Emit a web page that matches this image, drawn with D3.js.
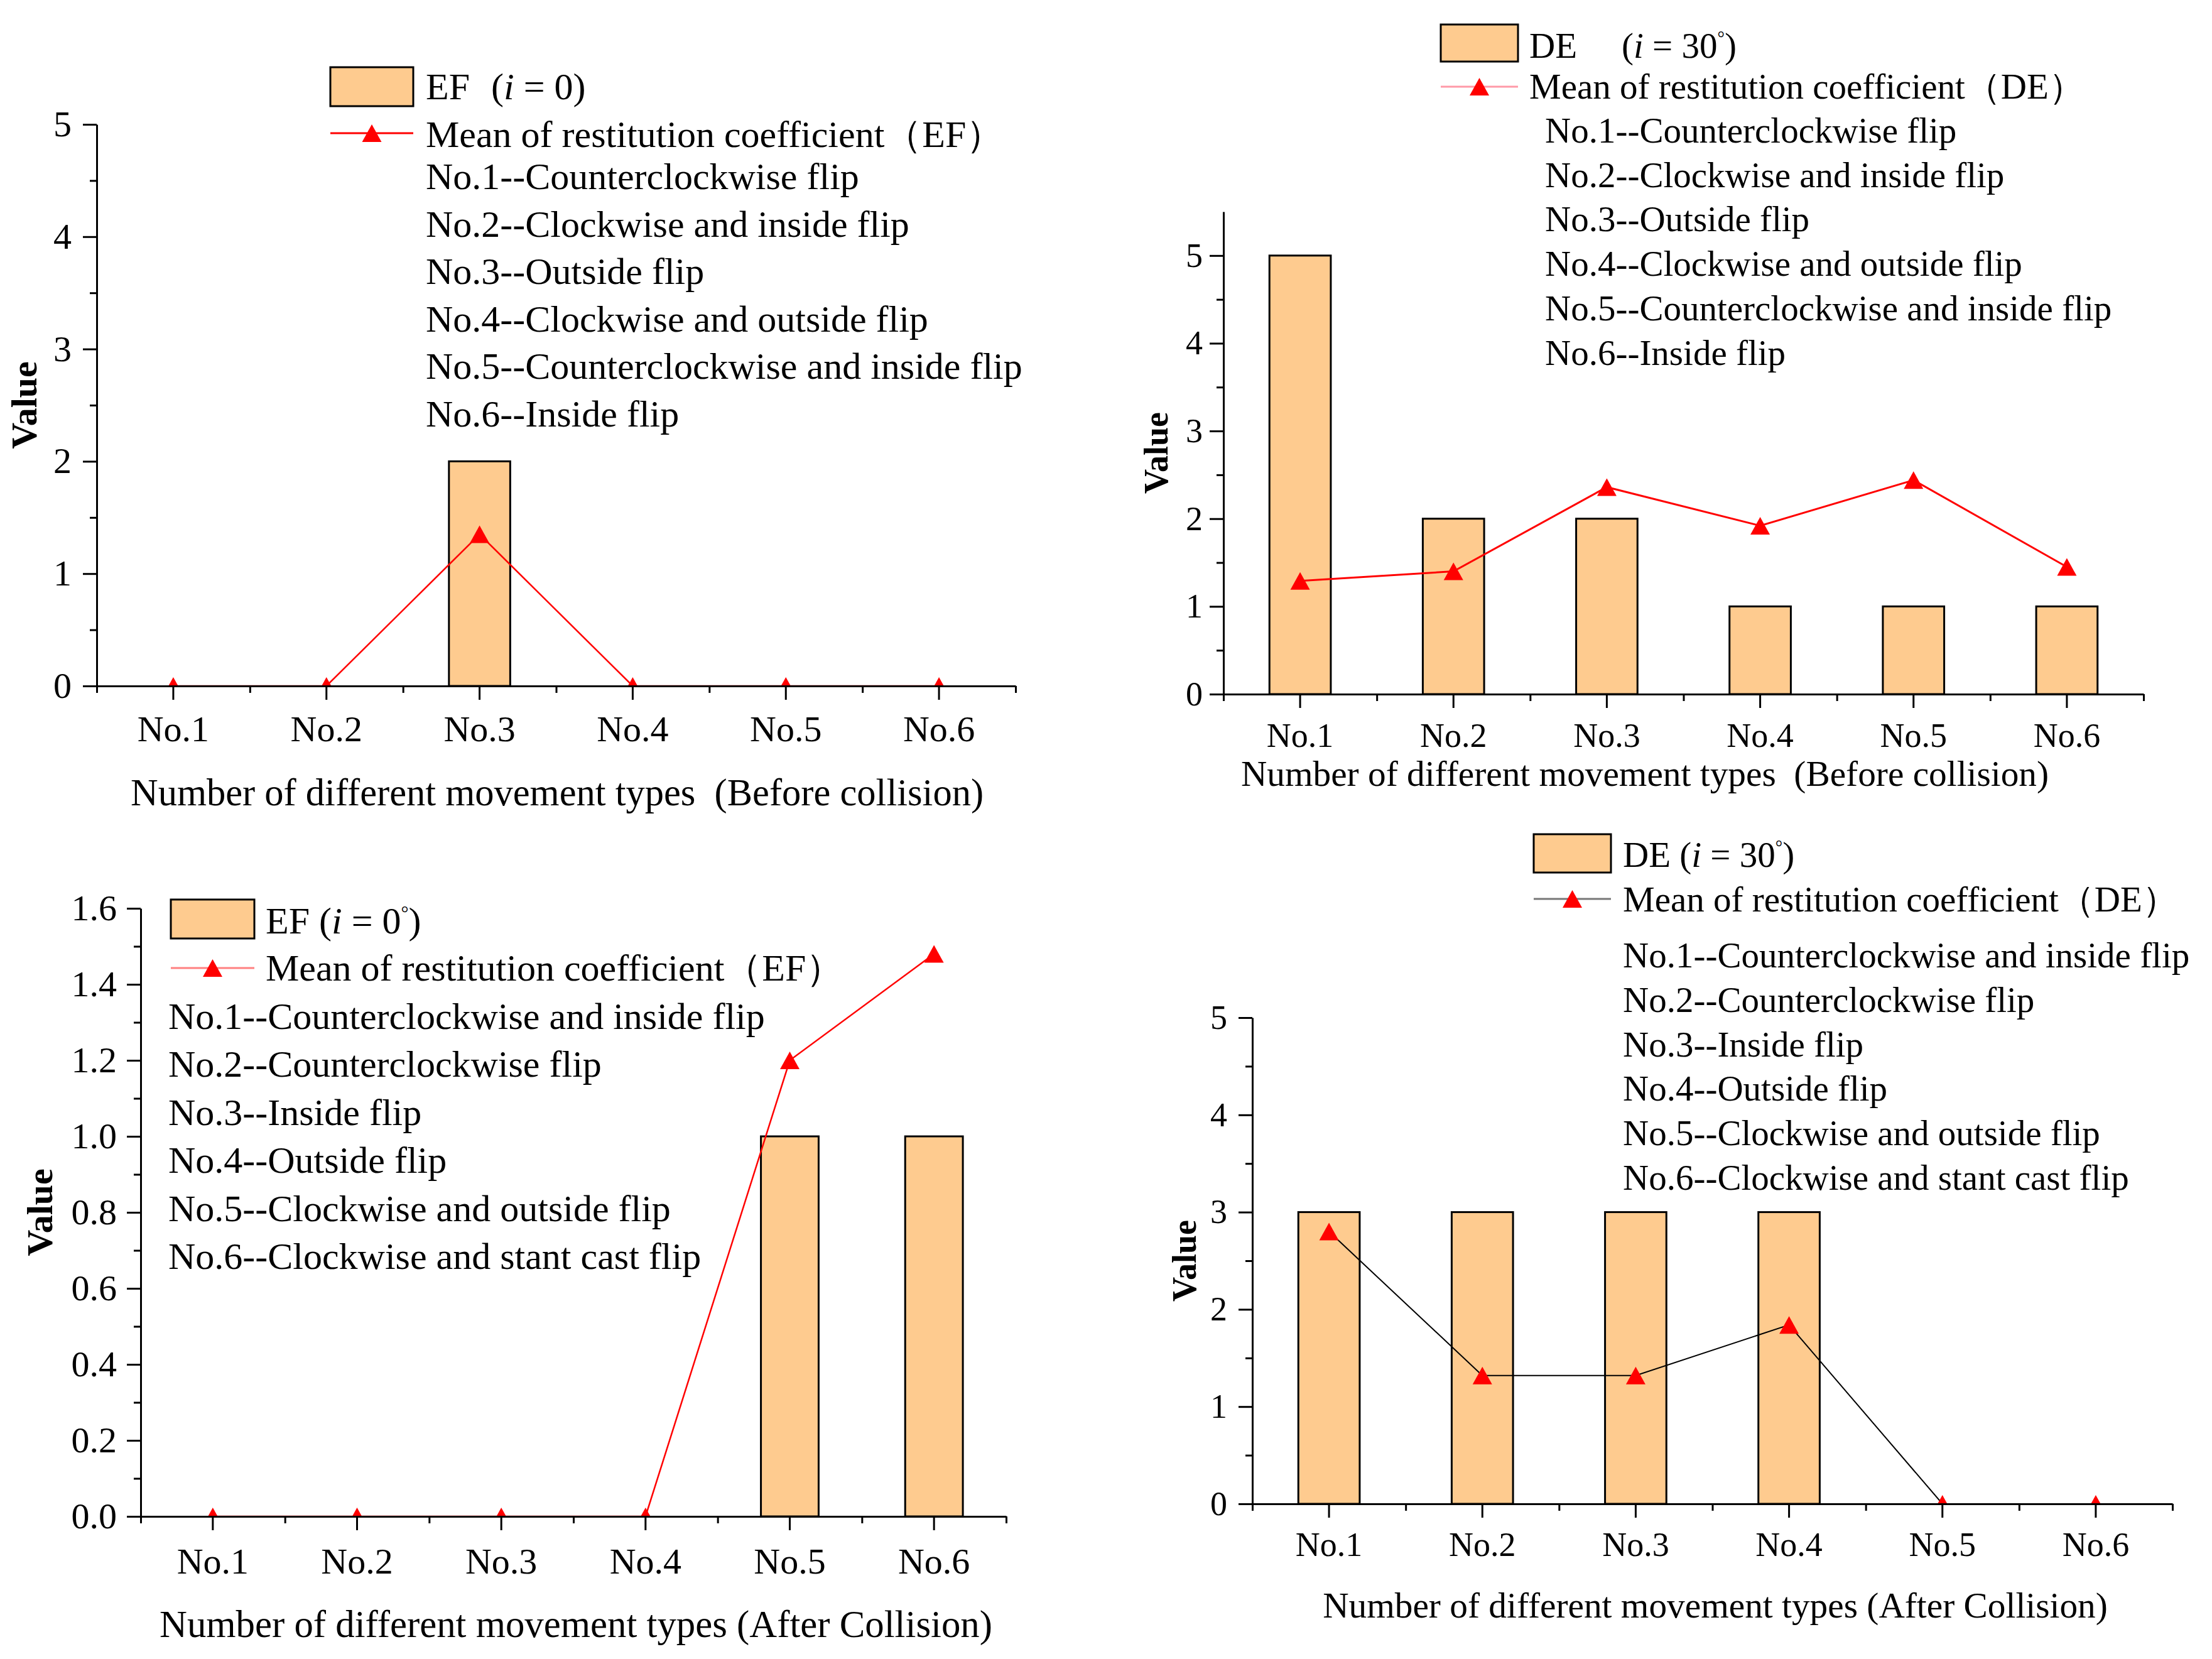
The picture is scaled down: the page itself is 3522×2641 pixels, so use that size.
<!DOCTYPE html>
<html>
<head>
<meta charset="utf-8">
<script src="https://cdn.jsdelivr.net/npm/d3@7"></script>
<style>
  body { margin: 0; background: #fff; }
  text { font-family: "Liberation Serif", "Times New Roman", serif; fill: #000; }
</style>
</head>
<body>
<div id="chart"></div>
<script>
var svgWidth = 3522;
var svgHeight = 2641;

// data
var categories = ["No.1", "No.2", "No.3", "No.4", "No.5", "No.6"];

var countBeforeEF = [0, 0, 2, 0, 0, 0];
var meanBeforeEF = [0, 0, 1.35, 0, 0, 0];
var countBeforeDE = [5, 2, 2, 1, 1, 1];
var meanBeforeDE = [1.29, 1.40, 2.36, 1.92, 2.44, 1.45];
var countAfterEF = [0, 0, 0, 0, 1, 1];
var meanAfterEF = [0, 0, 0, 0, 1.20, 1.48];
var countAfterDE = [3, 3, 3, 3, 0, 0];
var meanAfterDE = [2.80, 1.32, 1.32, 1.84, 0, 0];

var ticksCount = [0, 1, 2, 3, 4, 5];
var minorCount = [0.5, 1.5, 2.5, 3.5, 4.5];
var ticksFrac = [0, 0.2, 0.4, 0.6, 0.8, 1.0, 1.2, 1.4, 1.6];
var minorFrac = [0.1, 0.3, 0.5, 0.7, 0.9, 1.1, 1.3, 1.5];

var typesBefore = [
  "No.1--Counterclockwise flip",
  "No.2--Clockwise and inside flip",
  "No.3--Outside flip",
  "No.4--Clockwise and outside flip",
  "No.5--Counterclockwise and inside flip",
  "No.6--Inside flip"
];
var typesAfter = [
  "No.1--Counterclockwise and inside flip",
  "No.2--Counterclockwise flip",
  "No.3--Inside flip",
  "No.4--Outside flip",
  "No.5--Clockwise and outside flip",
  "No.6--Clockwise and stant cast flip"
];

var titleBefore = "Number of different movement types\u00A0\u00A0(Before collision)";
var titleAfter = "Number of different movement types (After Collision)";

var barFill = "#fecb8f";

var panels = [
  { counts: countBeforeEF, means: meanBeforeEF, types: typesBefore, title: titleBefore,
    name: "EF", angle: "0", degree: false, parenX: 782,
    left: 154, right: 1617, top: 198, bottom: 1092, max: 5,
    ticks: ticksCount, minor: minorCount, fmt: d3.format("d"),
    lineColor: "#ff0000", lineWidth: 2.5, legendLine: "#ff0000",
    axisFont: 58, titleFont: 60.5, legendFont: 60, yGap: 40, xLabelOff: 68,
    titleX: 887, titleBase: 1282, valueX: 38,
    swX: 526, swY: 107, swW: 132, swH: 62, lineY: 212, textX: 678,
    firstBase: 158, meanBase: 234, descX: 678, descBase: 301, descStep: 75.6 },
  { counts: countBeforeDE, means: meanBeforeDE, types: typesBefore, title: titleBefore,
    name: "DE", angle: "30", degree: true, parenX: 2582,
    left: 1948, right: 3413, top: 337, bottom: 1105, max: 5.5,
    ticks: ticksCount, minor: minorCount, fmt: d3.format("d"),
    lineColor: "#ff0000", lineWidth: 3, legendLine: "#ff9aa8",
    axisFont: 54, titleFont: 57.3, legendFont: 57, yGap: 33, xLabelOff: 65,
    titleX: 2619, titleBase: 1251, valueX: 1841,
    swX: 2294, swY: 39, swW: 123, swH: 59, lineY: 138, textX: 2435,
    firstBase: 92, meanBase: 157, descX: 2460, descBase: 227, descStep: 70.7 },
  { counts: countAfterEF, means: meanAfterEF, types: typesAfter, title: titleAfter,
    name: "EF", angle: "0", degree: true, parenX: null,
    left: 224, right: 1602, top: 1446, bottom: 2414, max: 1.6,
    ticks: ticksFrac, minor: minorFrac, fmt: d3.format(".1f"),
    lineColor: "#ff0000", lineWidth: 2.5, legendLine: "#ff8080",
    axisFont: 58, titleFont: 60.8, legendFont: 60, yGap: 38, xLabelOff: 71,
    titleX: 917, titleBase: 2606, valueX: 63,
    swX: 272, swY: 1432, swW: 133, swH: 62, lineY: 1541, textX: 423,
    firstBase: 1486, meanBase: 1561, descX: 268, descBase: 1638, descStep: 76.4 },
  { counts: countAfterDE, means: meanAfterDE, types: typesAfter, title: titleAfter,
    name: "DE", angle: "30", degree: true, parenX: null,
    left: 1994, right: 3459, top: 1620, bottom: 2394, max: 5,
    ticks: ticksCount, minor: minorCount, fmt: d3.format("d"),
    lineColor: "#000000", lineWidth: 2, legendLine: "#777777",
    axisFont: 54, titleFont: 57.3, legendFont: 57, yGap: 40, xLabelOff: 64,
    titleX: 2731, titleBase: 2575, valueX: 1886,
    swX: 2442, swY: 1328, swW: 123, swH: 61, lineY: 1431, textX: 2584,
    firstBase: 1380, meanBase: 1451, descX: 2584, descBase: 1540, descStep: 70.8 }
];

var svg = d3.select("#chart").append("svg")
            .attr("width", svgWidth)
            .attr("height", svgHeight);

svg.append("rect").attr("width", svgWidth).attr("height", svgHeight).attr("fill", "#fff");

var triW = 31, triH = 28;
function triangle(cx, cy) {
  return "M" + cx + "," + (cy - triH / 2) +
         "L" + (cx + triW / 2) + "," + (cy + triH / 2) +
         "L" + (cx - triW / 2) + "," + (cy + triH / 2) + "Z";
}

panels.forEach(function(p, idx) {
  var g = svg.append("g");

  var xScale = d3.scaleBand()
                 .domain(categories)
                 .range([p.left, p.right])
                 .paddingInner(0.6)
                 .paddingOuter(0.3);
  var edgeScale = d3.scaleLinear().domain([0, categories.length]).range([p.left, p.right]);
  var yScale = d3.scaleLinear().domain([0, p.max]).range([p.bottom, p.top]);
  var cx = function(c) { return xScale(c) + xScale.bandwidth() / 2; };

  var rows = categories.map(function(c, i) { return { cat: c, count: p.counts[i], mean: p.means[i] }; });

  // bars
  g.selectAll("rect.bar").data(rows.filter(function(d) { return d.count > 0; }))
   .enter().append("rect")
   .attr("class", "bar")
   .attr("x", function(d) { return xScale(d.cat); })
   .attr("y", function(d) { return yScale(d.count); })
   .attr("width", xScale.bandwidth())
   .attr("height", function(d) { return p.bottom - yScale(d.count); })
   .attr("fill", barFill)
   .attr("stroke", "#000")
   .attr("stroke-width", 3);

  // clip for line + markers
  var clipId = "clip" + idx;
  svg.append("clipPath").attr("id", clipId)
     .append("rect")
     .attr("x", p.left).attr("y", p.top - 30)
     .attr("width", p.right - p.left).attr("height", p.bottom - p.top + 30);

  var lineG = g.append("g").attr("clip-path", "url(#" + clipId + ")");
  var line = d3.line().x(function(d) { return cx(d.cat); }).y(function(d) { return yScale(d.mean); });
  lineG.append("path").datum(rows)
       .attr("d", line)
       .attr("fill", "none")
       .attr("stroke", p.lineColor)
       .attr("stroke-width", p.lineWidth);
  lineG.selectAll("path.mark").data(rows).enter().append("path")
       .attr("class", "mark")
       .attr("d", function(d) { return triangle(cx(d.cat), yScale(d.mean)); })
       .attr("fill", "#ff0000");

  // y axis
  g.append("g")
   .attr("transform", "translate(" + p.left + ",0)")
   .style("font-size", p.axisFont + "px")
   .call(d3.axisLeft(yScale).tickValues(p.ticks).tickFormat(p.fmt)
           .tickSize(22).tickSizeOuter(0).tickPadding(p.yGap - 22));
  g.append("g")
   .attr("transform", "translate(" + p.left + ",0)")
   .call(d3.axisLeft(yScale).tickValues(p.minor).tickFormat("").tickSize(11).tickSizeOuter(0))
   .select(".domain").remove();

  // x axis
  var xAxis = g.append("g")
               .attr("transform", "translate(0," + p.bottom + ")")
               .style("font-size", p.axisFont + "px")
               .call(d3.axisBottom(xScale).tickSize(22).tickSizeOuter(0).tickPadding(0));
  xAxis.selectAll("text").attr("y", p.xLabelOff).attr("dy", "0.35em");
  g.append("g")
   .attr("transform", "translate(0," + p.bottom + ")")
   .call(d3.axisBottom(edgeScale).tickValues(d3.range(categories.length + 1)).tickFormat("").tickSize(11).tickSizeOuter(0))
   .select(".domain").remove();

  g.selectAll(".domain").attr("stroke-width", 3).attr("stroke", "#000");
  g.selectAll(".tick line").attr("stroke-width", 3).attr("stroke", "#000");
  g.selectAll(".tick text").attr("fill", "#000");

  // axis titles
  g.append("text")
   .attr("x", p.titleX).attr("y", p.titleBase)
   .attr("text-anchor", "middle")
   .style("font-size", p.titleFont + "px")
   .text(p.title);

  g.append("text")
   .attr("transform", "translate(" + p.valueX + "," + ((p.top + p.bottom) / 2) + ") rotate(-90)")
   .attr("text-anchor", "middle")
   .attr("dominant-baseline", "central")
   .style("font-size", p.axisFont + "px")
   .style("font-weight", "bold")
   .text("Value");

  // legend
  var lg = g.append("g").style("font-size", p.legendFont + "px");
  lg.append("rect")
    .attr("x", p.swX).attr("y", p.swY).attr("width", p.swW).attr("height", p.swH)
    .attr("fill", barFill).attr("stroke", "#000").attr("stroke-width", 3);

  var first = lg.append("text").attr("x", p.textX).attr("y", p.firstBase);
  first.append("tspan").text(p.name);
  var paren = first.append("tspan").text(p.parenX ? "(" : " (");
  if (p.parenX) paren.attr("x", p.parenX);
  first.append("tspan").style("font-style", "italic").text("i");
  first.append("tspan").text(" = " + p.angle);
  if (p.degree) {
    first.append("tspan").attr("dy", -p.legendFont * 0.38).style("font-size", (p.legendFont * 0.5) + "px").text("\u00B0");
    first.append("tspan").attr("dy", p.legendFont * 0.38).text(")");
  } else {
    first.append("tspan").text(")");
  }

  lg.append("line")
    .attr("x1", p.swX).attr("x2", p.swX + p.swW)
    .attr("y1", p.lineY).attr("y2", p.lineY)
    .attr("stroke", p.legendLine).attr("stroke-width", 3);
  lg.append("path")
    .attr("d", triangle(p.swX + p.swW / 2, p.lineY))
    .attr("fill", "#ff0000");
  lg.append("text")
    .attr("x", p.textX).attr("y", p.meanBase)
    .text("Mean of restitution coefficient\uFF08" + p.name + "\uFF09");

  lg.selectAll("text.desc").data(p.types).enter().append("text")
    .attr("class", "desc")
    .attr("x", p.descX)
    .attr("y", function(d, i) { return p.descBase + i * p.descStep; })
    .text(function(d) { return d; });
});
</script>
</body>
</html>
